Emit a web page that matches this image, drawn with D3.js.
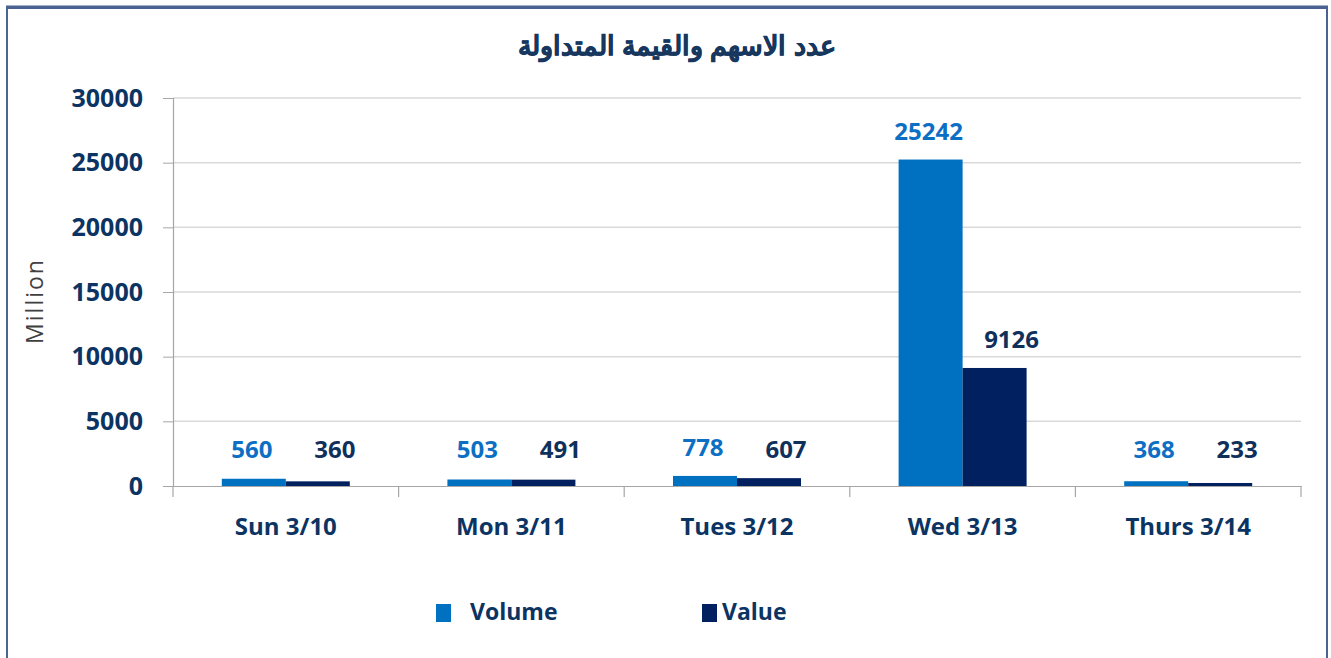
<!DOCTYPE html>
<html>
<head>
<meta charset="utf-8">
<script src="https://cdn.jsdelivr.net/npm/d3@7"></script>
<style>
  body { margin: 0; background: #fff; }
  text { font-family: "Open Sans", sans-serif; }
</style>
</head>
<body>
<div class="canvas"></div>
<script>
const categories = ['Sun 3/10', 'Mon 3/11', 'Tues 3/12', 'Wed 3/13', 'Thurs 3/14'];
const seriesNames = ['Volume', 'Value'];
const volume = [560, 503, 778, 25242, 368];
const value = [360, 491, 607, 9126, 233];
const yTicks = [0, 5000, 10000, 15000, 20000, 25000, 30000];
const title = 'عدد الاسهم والقيمة المتداولة';

const dims = {width: 1331, height: 658};
const plot = {left: 173, right: 1301, top: 98, bottom: 486};
const colors = {Volume: '#0070c0', Value: '#002060'};
const labelColors = {Volume: '#0d6fc4', Value: '#10305c'};
const navy = '#0b3463';

const svg = d3.select('.canvas')
  .append('svg')
  .attr('width', dims.width)
  .attr('height', dims.height);

// frame
svg.append('rect')
  .attr('x', 7).attr('y', 8)
  .attr('width', 1320).attr('height', 700)
  .attr('fill', 'none')
  .attr('stroke', '#4a6393')
  .attr('stroke-width', 2);
svg.append('line')
  .attr('x1', 6).attr('x2', 1328)
  .attr('y1', 7).attr('y2', 7)
  .attr('stroke', '#4a6393')
  .attr('stroke-width', 3);

// scales
const x = d3.scaleBand()
  .domain(categories)
  .range([plot.left, plot.right]);

const xSub = d3.scaleBand()
  .domain(seriesNames)
  .range([0, x.bandwidth()])
  .paddingOuter(0.7625);

const y = d3.scaleLinear()
  .domain([0, 30000])
  .range([plot.bottom, plot.top]);

// gridlines
svg.append('g')
  .selectAll('line')
  .data(yTicks.filter(d => d > 0))
  .enter()
  .append('line')
  .attr('x1', plot.left).attr('x2', plot.right)
  .attr('y1', d => y(d)).attr('y2', d => y(d))
  .attr('stroke', '#d9d9d9')
  .attr('stroke-width', 1.5);

// y axis
const yAxis = svg.append('g')
  .attr('transform', `translate(${plot.left},0)`)
  .call(d3.axisLeft(y).tickValues(yTicks).tickSize(10).tickPadding(20).tickFormat(d3.format('d')));
yAxis.select('.domain').attr('stroke', '#a6a6a6').attr('stroke-width', 1.2);
yAxis.selectAll('.tick line').attr('stroke', '#a6a6a6');
yAxis.selectAll('.tick text')
  .attr('fill', navy)
  .attr('font-size', 25)
  .attr('font-weight', 700)
  .attr('font-family', '"Open Sans", sans-serif');

// x axis
const xAxis = svg.append('g')
  .attr('transform', `translate(0,${plot.bottom})`)
  .call(d3.axisBottom(x).tickSize(0).tickPadding(32));
xAxis.select('.domain').attr('stroke', '#a6a6a6').attr('stroke-width', 1.2);
xAxis.selectAll('.tick text')
  .attr('fill', navy)
  .attr('font-size', 24)
  .attr('font-weight', 700)
  .attr('font-family', '"Open Sans", sans-serif');

// category boundary ticks
svg.append('g')
  .selectAll('line')
  .data(categories.concat(['end']))
  .enter()
  .append('line')
  .attr('x1', (d, i) => plot.left + i * x.step())
  .attr('x2', (d, i) => plot.left + i * x.step())
  .attr('y1', plot.bottom).attr('y2', plot.bottom + 11)
  .attr('stroke', '#a6a6a6')
  .attr('stroke-width', 1.2);

// bars
const rows = categories.map((c, i) => ({cat: c, Volume: volume[i], Value: value[i]}));

const groups = svg.append('g')
  .selectAll('.group')
  .data(rows)
  .enter()
  .append('g')
  .attr('class', 'group')
  .attr('transform', d => `translate(${x(d.cat)},0)`);

groups.selectAll('rect')
  .data(d => seriesNames.map(s => ({key: s, val: d[s]})))
  .enter()
  .append('rect')
  .attr('x', d => xSub(d.key))
  .attr('width', xSub.bandwidth())
  .attr('y', d => y(d.val))
  .attr('height', d => plot.bottom - y(d.val))
  .attr('fill', d => colors[d.key]);

groups.selectAll('.lbl')
  .data(d => seriesNames.map(s => ({key: s, val: d[s]})))
  .enter()
  .append('text')
  .attr('class', 'lbl')
  .attr('x', d => xSub(d.key) + xSub.bandwidth() / 2 + (d.key === 'Value' ? 17 : -2))
  .attr('y', d => Math.min(y(d.val), plot.bottom - 8) - 20)
  .attr('text-anchor', 'middle')
  .attr('fill', d => labelColors[d.key])
  .attr('font-size', 24)
  .attr('font-weight', 700)
  .text(d => d.val);

// title
svg.append('text')
  .attr('x', 677)
  .attr('y', 55)
  .attr('text-anchor', 'middle')
  .attr('fill', '#17375e')
  .attr('stroke', '#17375e')
  .attr('stroke-width', 0.6)
  .attr('font-family', '"DejaVu Sans", sans-serif')
  .attr('font-weight', 700)
  .attr('font-size', 27)
  .text(title);

// y title
svg.append('text')
  .attr('transform', 'translate(43,301) rotate(-90)')
  .attr('text-anchor', 'middle')
  .attr('fill', '#404040')
  .attr('font-size', 23)
  .attr('letter-spacing', 2)
  .text('Million');

// legend
const legendPos = [{sx: 436, tx: 470}, {sx: 702, tx: 722}];
const legend = svg.append('g')
  .selectAll('g')
  .data(seriesNames)
  .enter()
  .append('g');
legend.append('rect')
  .attr('x', (d, i) => legendPos[i].sx)
  .attr('y', 604)
  .attr('width', 15).attr('height', 18)
  .attr('fill', d => colors[d]);
legend.append('text')
  .attr('x', (d, i) => legendPos[i].tx)
  .attr('y', 620)
  .attr('fill', navy)
  .attr('font-size', 23)
  .attr('font-weight', 700)
  .text(d => d);
</script>
</body>
</html>
